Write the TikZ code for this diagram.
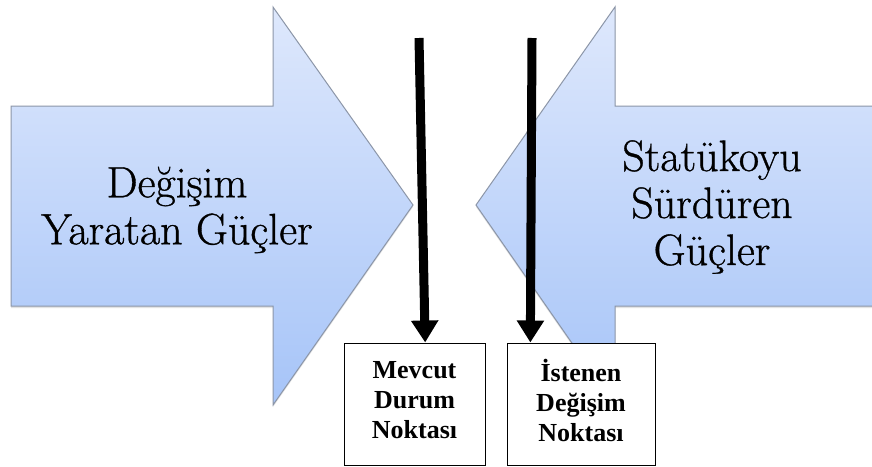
\documentclass[tikz,border=0pt]{standalone}
\usepackage{fontspec}
\newfontfamily\labelserif[FakeBold=0.8]{Latin Modern Roman}
\newfontfamily\boxserif{Liberation Serif}
\usetikzlibrary{arrows.meta,calc,shadows}

\definecolor{arrowtop}{RGB}{222,232,252}
\definecolor{arrowbot}{RGB}{166,196,248}
\definecolor{arrowedge}{RGB}{140,150,168}

\begin{document}
\begin{tikzpicture}[x=1pt,y=-1pt,
  force/.style={draw=arrowedge, line width=1pt, top color=arrowtop, bottom color=arrowbot,
    drop shadow={opacity=0.22, shadow xshift=0pt, shadow yshift=-2pt}},
  forcelabel/.style={align=center, inner sep=0pt,
    font=\labelserif\fontsize{44}{47}\selectfont},
  pointbox/.style={draw, line width=1pt, fill=white, inner sep=0pt,
    minimum height=122pt, align=center,
    font=\boxserif\bfseries\fontsize{26}{30}\selectfont},
  pointer/.style={line width=9pt, -{Triangle[width=26pt,length=22pt]}}]
\useasboundingbox (0,0) rectangle (872,466);
\fill[white] (0,0) rectangle (872,466);

% driving forces, pointing right
\path[force] (11,106) -- (273,106) -- (273,7) -- (413,205) -- (273,405)
  -- (273,306) -- (11,306) -- cycle;
% restraining forces, pointing left
\path[force] (880,106) -- (615,106) -- (615,7) -- (476,205) -- (615,405)
  -- (615,306) -- (880,306);

\node[forcelabel] (push) at (177,210) {Değişim\\Yaratan Güçler};
\node[forcelabel] (hold) at (712,207) {Statükoyu\\Sürdüren\\Güçler};

% the two reference points; the struts keep the text a little above centre
\node[pointbox, minimum width=141pt] (now) at (414.5,404)
  {Mevcut\\Durum\\Noktası\rule[-8pt]{0pt}{0pt}};
\node[pointbox, minimum width=148pt] (goal) at (581,404)
  {İstenen\\Değişim\\Noktası\rule[-8pt]{0pt}{0pt}};

\coordinate (nowtop) at (419,38);
\coordinate (goaltop) at (532,38);
\draw[pointer] (nowtop) -- ($(now.north west)!0.575!(now.north east)$);
\draw[pointer] (goaltop) -- ($(goal.north west)!0.16!(goal.north east)$);
\end{tikzpicture}
\end{document}
